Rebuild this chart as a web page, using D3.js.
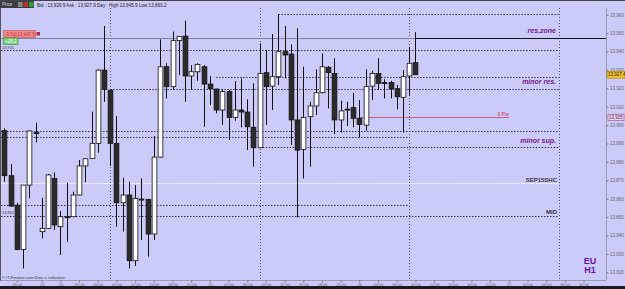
<!DOCTYPE html>
<html>
<head>
<meta charset="utf-8">
<script src="https://cdn.jsdelivr.net/npm/d3@7"></script>
<style>
html, body { margin: 0; padding: 0; background: #cbcbf9; }
svg { display: block; font-family: "Liberation Sans", Arial, sans-serif; }
</style>
</head>
<body>
<svg id="chart" width="625" height="289"></svg>
<script>
// hourly candles (EU, H1)
const open = [13897.0,13872.5,13856.5,13832.4,13867.4,13895.9,13842.1,13843.9,13871.0,13844.8,
  13850.2,13850.2,13862.0,13877.8,13881.9,13890.1,13929.9,13919.0,13890.1,13857.8,
  13862.0,13826.3,13859.8,13859.6,13840.8,13882.6,13931.7,13920.9,13945.9,13948.4,
  13926.7,13929.0,13931.7,13922.3,13919.6,13908.2,13918.2,13904.2,13908.2,13907.1,
  13898.8,13887.7,13928.5,13921.2,13926.3,13939.9,13938.6,13902.8,13886.8,13904.6,
  13910.4,13917.6,13931.4,13928.1,13902.8,13908.7,13909.5,13903.7,13900.0,13921.2,
  13928.1,13923.1,13923.1,13919.8,13915.1,13926.7,13933.9];
const high = [13898.2,13878.8,13857.8,13867.4,13897.0,13901.3,13860.5,13873.4,13874.3,13853.3,
  13868.7,13863.8,13881.0,13881.9,13907.3,13930.3,13953.9,13919.4,13904.9,13871.4,
  13869.2,13867.4,13871.0,13860.0,13894.1,13946.6,13933.6,13950.8,13948.4,13956.8,
  13932.6,13933.6,13932.6,13926.7,13919.8,13919.4,13919.1,13924.0,13925.4,13914.0,
  13922.7,13944.4,13940.8,13949.5,13960.4,13953.9,13943.9,13952.6,13931.7,13912.7,
  13930.3,13939.0,13932.1,13936.3,13913.3,13912.7,13917.6,13913.6,13930.3,13929.6,
  13936.3,13924.9,13924.1,13921.8,13929.9,13942.6,13950.5];
const low = [13869.2,13855.6,13832.0,13822.1,13860.2,13890.6,13838.4,13843.5,13843.0,13829.4,
  13836.6,13850.0,13861.8,13868.9,13881.7,13885.0,13912.7,13877.8,13844.8,13842.1,
  13822.1,13823.4,13837.5,13828.5,13837.5,13882.4,13914.5,13919.1,13927.2,13912.7,
  13919.1,13924.1,13899.1,13910.9,13906.4,13900.1,13891.9,13902.4,13898.8,13886.4,
  13877.4,13887.5,13900.1,13908.2,13921.8,13925.4,13889.2,13849.8,13871.0,13877.4,
  13905.5,13917.2,13909.1,13895.1,13895.9,13899.5,13898.8,13893.3,13896.9,13913.6,
  13919.1,13914.5,13914.5,13908.6,13895.9,13915.8,13927.4];
const close = [13872.5,13856.0,13832.4,13867.4,13896.8,13895.5,13843.9,13872.9,13845.7,13850.2,
  13850.0,13862.0,13877.8,13881.7,13890.1,13929.9,13919.4,13890.1,13857.8,13862.0,
  13826.3,13860.2,13859.8,13840.8,13882.6,13931.7,13920.9,13945.9,13948.1,13926.7,
  13929.0,13933.0,13922.3,13919.8,13908.2,13918.2,13904.2,13908.2,13907.1,13899.1,
  13887.7,13928.1,13920.9,13926.3,13939.9,13938.1,13902.8,13886.4,13904.2,13910.4,
  13917.6,13931.7,13928.5,13902.8,13907.7,13908.7,13903.7,13900.4,13920.9,13928.1,
  13922.7,13923.1,13919.8,13915.4,13926.3,13933.6,13927.4];

// time axis, in candle counts
const tickIdx = [2,6,9,12,15,18,21,24,27,30,33,36,39,42,45,48,51,54,57,60,63,66,69,72,75,78,81,84,87,90,93];
const tickText = ["18:00","23","24","03:00","06:00","09:00","12:00","15:00","18:00","21:00","25",
  "03:00","06:00","09:00","12:00","15:00","18:00","21:00","26","03:00","06:00","09:00","12:00",
  "15:00","18:00","21:00","27","03:00","06:00","09:00","12:00"];
const sessionIdx = [17, 41, 65, 89];
const priceTicks = [13820,13830,13840,13850,13860,13870,13880,13890,13900,13910,13920,13930,13940,13950,13960];

// drawn levels
const levelPrice = [13960.3, 13940.6, 13926.3, 13919.8, 13897.0, 13893.4, 13887.9, 13868.4, 13856.7, 13850.6];
const levelFrom  = [44, -0.7, 34, 17, -0.7, -0.7, 41, -0.7, -0.7, -0.7];
const levelTo    = [89, 89, 89, 89, 89, 65, 89, 89, 65, 89];
const levelWhite = [0, 0, 0, 0, 0, 0, 0, 1, 0, 0];

const noteText  = ["res.zone", "minor res.", "minor sup.", "SEP15SHC", "MID"];
const notePrice = [13947.5, 13919.8, 13887.9, 13868.4, 13850.6];
const noteKind  = ["zone", "zone", "zone", "tag", "tag"];

const tradePrice = 13947.5;
const targetPrice = 13904.6;

let W = 625, H = 289;
let plotR = 606, plotT = 8, plotB = 280.5;

let x = d3.scaleLinear().domain([-0.7, 96.6]).range([0, plotR]);
let y = d3.scaleLinear().domain([13820, 13960]).range([272.3, 14.7]);

let svg = d3.select("#chart");
svg.append("rect").attr("width", W).attr("height", H).attr("fill", "#cbcbf9");

// session lines
svg.selectAll(".sess").data(sessionIdx).enter().append("line")
  .attr("x1", d => Math.round(x(d)) + 0.5).attr("x2", d => Math.round(x(d)) + 0.5)
  .attr("y1", plotT).attr("y2", plotB)
  .attr("stroke", "#55557a").attr("stroke-dasharray", "1,2");

// levels
levelPrice.forEach((p, i) => {
  let yy = Math.round(y(p)) + 0.5;
  svg.append("line")
    .attr("x1", levelFrom[i] < 0 ? 1 : x(levelFrom[i])).attr("x2", x(levelTo[i]))
    .attr("y1", yy).attr("y2", yy)
    .attr("stroke", levelWhite[i] ? "#ffffff" : "#34344a")
    .attr("stroke-dasharray", levelWhite[i] ? "1.5,1" : "1.5,1.5");
});

// trade line + res zone
let ty = Math.round(y(tradePrice)) + 0.5;
svg.append("line").attr("x1", 1).attr("x2", plotR).attr("y1", ty).attr("y2", ty)
  .attr("stroke", "#80809a").attr("stroke-width", 1);
svg.append("line").attr("x1", x(66)).attr("x2", plotR).attr("y1", ty).attr("y2", ty)
  .attr("stroke", "#111").attr("stroke-width", 1.1);

// target line
let ry = Math.round(y(targetPrice)) + 0.5;
svg.append("line").attr("x1", x(57)).attr("x2", x(81)).attr("y1", ry).attr("y2", ry)
  .attr("stroke", "#d0607a");
svg.append("text").attr("x", x(81)).attr("y", ry - 1.5).attr("text-anchor", "end")
  .attr("font-size", 5).attr("fill", "#c83050").text("0 Pts");

// candles
let bw = (x(1) - x(0)) * 0.76;
let g = svg.append("g");
open.forEach((o, i) => {
  let c = close[i];
  let cx = Math.round(x(i)) + 0.5;
  let up = c > o;
  g.append("line").attr("x1", cx).attr("x2", cx)
    .attr("y1", y(high[i])).attr("y2", y(low[i]))
    .attr("stroke", "#111").attr("stroke-width", 1);
  let top = y(Math.max(o, c)), bot = y(Math.min(o, c));
  g.append("rect")
    .attr("x", cx - bw / 2).attr("y", top)
    .attr("width", bw).attr("height", Math.max(1, bot - top))
    .attr("fill", up ? "#ffffff" : "#2b2b2b")
    .attr("stroke", "#111").attr("stroke-width", 0.8);
});

// notes on levels
noteText.forEach((t, i) => {
  let zone = noteKind[i] == "zone";
  svg.append("text")
    .attr("x", zone ? 556 : 557).attr("y", y(notePrice[i]) - (zone ? 4.5 : 1.5))
    .attr("text-anchor", "end")
    .attr("font-size", zone ? 7 : 6)
    .attr("font-weight", "bold")
    .attr("font-style", zone ? "italic" : "normal")
    .attr("fill", zone ? "#7a1a8a" : "#333340")
    .text(t);
});

// left tags
svg.append("rect").attr("x", 3.5).attr("y", 30.5).attr("width", 32).attr("height", 7)
  .attr("fill", "#f08a8a").attr("stroke", "#c05050").attr("stroke-width", 0.6);
svg.append("text").attr("x", 5).attr("y", 36).attr("font-size", 4.5).attr("fill", "#c83a3a")
  .text("-0.5@13,947.5");
svg.append("rect").attr("x", 36.5).attr("y", 32).attr("width", 3.5).attr("height", 3.5)
  .attr("fill", "#b03030");
svg.append("rect").attr("x", 3.5).attr("y", 38).attr("width", 14.5).attr("height", 6.5)
  .attr("fill", "#7ad07a").attr("stroke", "#3a8a3a").attr("stroke-width", 0.6);
svg.append("text").attr("x", 5).attr("y", 43.3).attr("font-size", 4.5).attr("fill", "#ffffff")
  .text("+20.2");
svg.append("text").attr("x", 2).attr("y", y(13940.6) - 1.5).attr("font-size", 4).attr("fill", "#333")
  .text(d3.format(",.0f")(13940.6));
svg.append("text").attr("x", 2).attr("y", y(13850.6) - 1.5).attr("font-size", 4).attr("fill", "#333")
  .text(d3.format(",.0f")(13850.6));

// plot frame
svg.append("line").attr("x1", plotR + 0.5).attr("x2", plotR + 0.5).attr("y1", plotT).attr("y2", plotB)
  .attr("stroke", "#9a9ab8");
svg.append("line").attr("x1", 0).attr("x2", plotR).attr("y1", plotB).attr("y2", plotB)
  .attr("stroke", "#9a9ab8");
svg.append("line").attr("x1", 0.5).attr("x2", 0.5).attr("y1", 0).attr("y2", plotB)
  .attr("stroke", "#555");

// right axis
let ya = svg.append("g").attr("transform", `translate(${plotR + 0.5},0)`)
  .call(d3.axisRight(y).tickValues(priceTicks).tickFormat(d3.format(",")).tickSize(2).tickPadding(1.5));
ya.select(".domain").remove();
ya.selectAll("line").attr("stroke", "#777");
ya.selectAll("text").attr("font-size", 4.5).attr("fill", "#666").attr("font-family", "Liberation Sans, Arial");

// last price tags
let ly = y(close[close.length - 1]);
svg.append("rect").attr("x", 607).attr("y", ly - 3.5).attr("width", 18).attr("height", 7)
  .attr("fill", "#f0c020").attr("stroke", "#a07800").attr("stroke-width", 0.5);
svg.append("text").attr("x", 608).attr("y", ly + 1.7).attr("font-size", 4.5).attr("fill", "#222")
  .text(d3.format(",.1f")(close[close.length - 1]));
svg.append("rect").attr("x", 608).attr("y", ry - 3.3).attr("width", 16).attr("height", 6.5)
  .attr("fill", "#d8d8ff").attr("stroke", "#c04060").attr("stroke-width", 0.6);
svg.append("text").attr("x", 609).attr("y", ry + 1.7).attr("font-size", 4.5).attr("fill", "#802040")
  .text(d3.format(",.0f")(targetPrice));

// bottom axis
let xa = svg.append("g").attr("transform", `translate(0,${plotB})`)
  .call(d3.axisBottom(x).tickValues(tickIdx).tickFormat((d, i) => tickText[i]).tickSize(2).tickPadding(0.5));
xa.select(".domain").remove();
xa.selectAll("line").attr("stroke", "#777");
xa.selectAll("text").attr("font-size", 4).attr("fill", "#666").attr("font-family", "Liberation Sans, Arial");

svg.append("text").attr("x", 2).attr("y", 279).attr("font-size", 4).attr("font-style", "italic")
  .attr("fill", "#333").text("© IT-Finance.com  Data is indicative");

// EU / H1 tag
svg.append("text").attr("x", 590).attr("y", 264).attr("text-anchor", "middle")
  .attr("font-size", 9).attr("font-weight", "bold").attr("fill", "#6a10a8").text("EU");
svg.append("text").attr("x", 590).attr("y", 273).attr("text-anchor", "middle")
  .attr("font-size", 9).attr("font-weight", "bold").attr("fill", "#6a10a8").text("H1");

// header strip
svg.append("line").attr("x1", 0).attr("x2", W).attr("y1", 0.5).attr("y2", 0.5).attr("stroke", "#444");
svg.append("rect").attr("x", 0).attr("y", 1).attr("width", 34).attr("height", 7).attr("fill", "#3c3c44");
svg.append("text").attr("x", 2).attr("y", 6.3).attr("font-size", 4.5).attr("fill", "#ddd").text("Price");
svg.append("rect").attr("x", 18).attr("y", 2).attr("width", 4.5).attr("height", 5).attr("fill", "#888");
svg.append("rect").attr("x", 23.5).attr("y", 2).attr("width", 4.5).attr("height", 5).attr("fill", "#c03030");
svg.append("rect").attr("x", 29).attr("y", 2).attr("width", 4.5).attr("height", 5).attr("fill", "#30a030");
svg.append("text").attr("x", 37).attr("y", 6.5).attr("font-size", 4.6).attr("fill", "#222")
  .text("Bid : 13,926.9 Ask : 13,927.9 Day : High 13,945.9 Low 13,893.2");

// bottom bar
svg.append("rect").attr("x", 0).attr("y", 286).attr("width", W).attr("height", 3).attr("fill", "#1a1a22");
</script>
</body>
</html>
